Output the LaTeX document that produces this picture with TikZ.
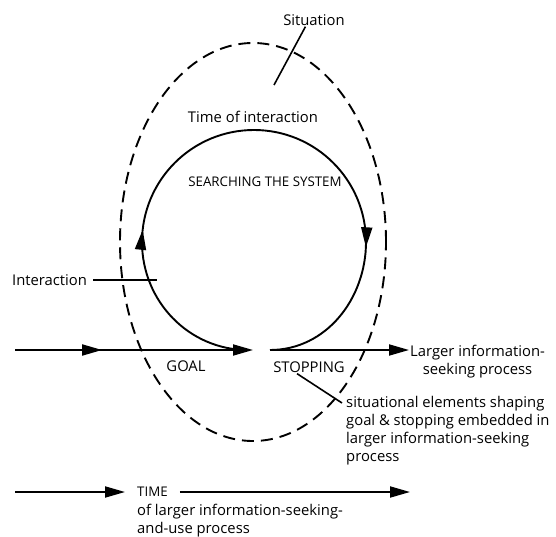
\documentclass[tikz,border=0pt]{standalone}
\usepackage{fontspec}
\setmainfont{Open Sans}
\usetikzlibrary{arrows.meta, decorations.markings}
\tikzstyle{txt} = [inner sep=1pt, font=\fontsize{14.8}{18}\selectfont]
\tikzstyle{capstxt} = [inner sep=1pt, font=\fontsize{13.3}{18}\selectfont]
\tikzstyle{lead} = [line width=1.6pt]
\tikzstyle{arrow} = [line width=1.9pt, -{Triangle[length=20pt, width=11pt]}]
\tikzstyle{situation} = [line width=1.9pt, dash pattern=on 12pt off 7pt]
\tikzstyle{cycleline} = [line width=1.9pt]
\tikzset{midtip/.style={postaction={decorate, decoration={markings, mark=at position #1 with {\arrow{Triangle[length=20pt, width=11pt]}}}}}}

\begin{document}
\begin{tikzpicture}[x=1pt, y=1pt]
		\useasboundingbox (0,0) rectangle (556,536);
		\draw [situation] (253,294) ellipse [x radius=133, y radius=199];
		\node (sit) [txt] at (314,516) {Situation};
		\node (toi) [txt] at (253,419) {Time of interaction};
		\node (sts) [capstxt] at (265,354) {SEARCHING THE SYSTEM};
		\node (inter) [txt, anchor=west] at (11,256) {Interaction};
		\node (goal) [txt] at (186,170) {GOAL};
		\node (stp) [txt] at (309,169) {STOPPING};
		\node (lrg) [txt, align=center, anchor=west] at (409,174) {Larger information-\\seeking process};
		\node (elem) [txt, align=left, anchor=west] at (345,105) {situational elements shaping\\goal \& stopping embedded in\\larger information-seeking\\process};
		\node (time) [capstxt, anchor=west, inner xsep=12pt] at (125,44) {TIME};
		\node (timetxt) [txt, align=left, anchor=west] at (136,15) {of larger information-seeking-\\and-use process};
		\coordinate (goalL) at (15,186);
		\coordinate (goalJ) at (248,186);
		\coordinate (goalT) at (253,186);
		\coordinate (stopJ) at (270,186);
		\coordinate (sitA) at (274,451);
		\coordinate (interA) at (157,256);
		\coordinate (elemA) at (342,133);
		\coordinate (timeL) at (15,44);
		\coordinate (timeR) at (410,44);
		\draw [cycleline, midtip=0.265, midtip=0.772] (goalJ) to[out=180, in=-90] (142,294) arc[start angle=180, end angle=0, radius=112] to[out=-90, in=0] (stopJ);
		\draw [arrow, midtip=0.366] (goalL) -- (goalT);
		\draw [arrow] (stopJ) -- (stopJ -| lrg.west);
		\draw [lead] (sit.218) -- (sitA);
		\draw [lead, shorten <=5pt] (inter.east) -- (interA);
		\draw [lead] ([xshift=-12pt]stp.south) -- (elemA);
		\draw [arrow] (timeL) -- (time);
		\draw [arrow] (time) -- (timeR);
	\end{tikzpicture}
\end{document}
